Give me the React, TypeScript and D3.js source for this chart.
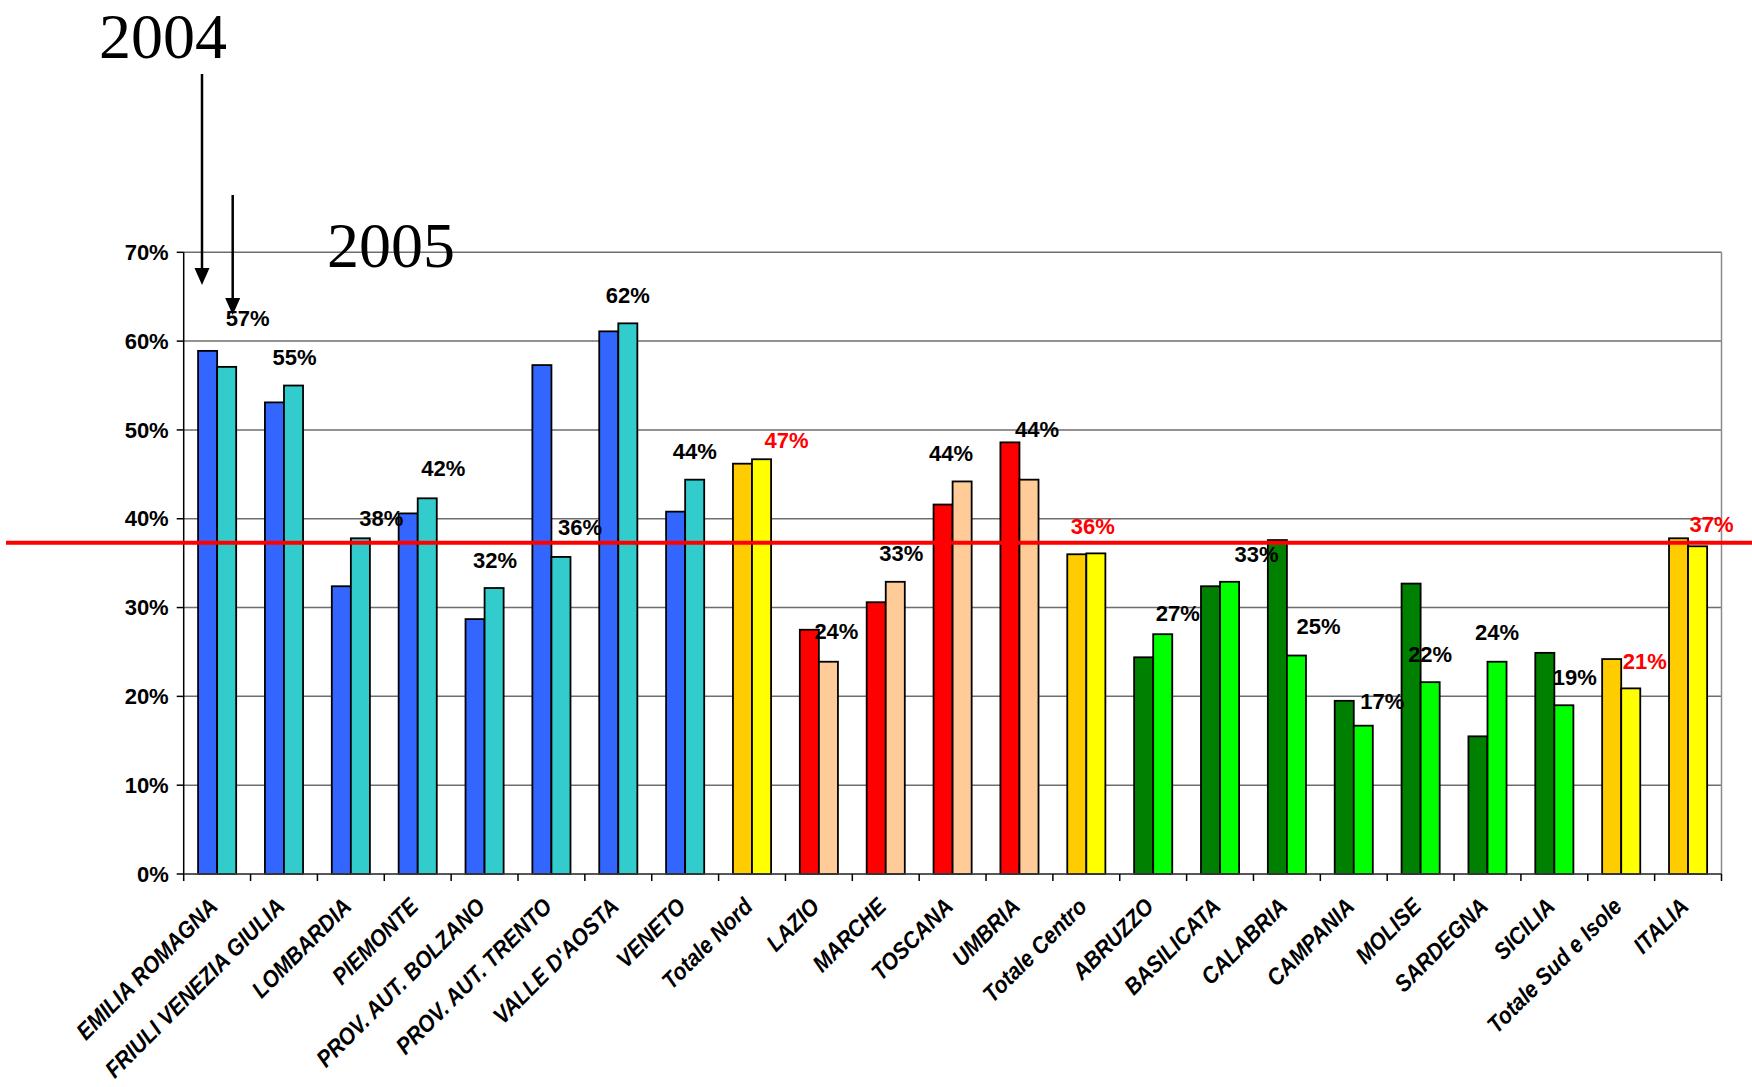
import React from "react";
import * as d3 from "d3";

const categories = [
  "EMILIA ROMAGNA", "FRIULI VENEZIA GIULIA", "LOMBARDIA", "PIEMONTE",
  "PROV. AUT. BOLZANO", "PROV. AUT. TRENTO", "VALLE D'AOSTA", "VENETO",
  "Totale Nord", "LAZIO", "MARCHE", "TOSCANA", "UMBRIA", "Totale Centro",
  "ABRUZZO", "BASILICATA", "CALABRIA", "CAMPANIA", "MOLISE", "SARDEGNA",
  "SICILIA", "Totale Sud e Isole", "ITALIA",
];
const groups = ["N","N","N","N","N","N","N","N","T","C","C","C","C","T","S","S","S","S","S","S","S","T","T"];
const values2004 = [58.9, 53.1, 32.4, 40.6, 28.7, 57.3, 61.1, 40.8, 46.2, 27.5, 30.6, 41.6, 48.6, 36.0, 24.4, 32.4, 37.6, 19.5, 32.7, 15.5, 24.9, 24.2, 37.8];
const values2005 = [57.1, 55.0, 37.8, 42.3, 32.2, 35.7, 62.0, 44.4, 46.7, 23.9, 32.9, 44.2, 44.4, 36.1, 27.0, 32.9, 24.6, 16.7, 21.6, 23.9, 19.0, 20.9, 36.9];
const redLabels = [false,false,false,false,false,false,false,false,true,false,false,false,false,true,false,false,false,false,false,false,false,true,true];
const referenceValue = 37.3;
const yTicks = [0, 10, 20, 30, 40, 50, 60, 70];
const years = ["2004", "2005"];

// label nudges (px) relative to the 2005 bar top
const labelDx = [21, 1, 21, 16, 1, 19, 0, 0, 25, 8, 6, -11, 8, -3, 15, 27, 22, 19, 0, 0, 11, 14, 14];
const labelDy = [-49, -28, -20, -30, -28, -30, -28, -28, -19, -30, -29, -28, -50, -27, -21, -28, -29, -24, -28, -29, -28, -27, -22];

const colors: Record<string, [string, string]> = {
  N: ["#3366FF", "#33CCCC"],
  T: ["#FFCC00", "#FFFF00"],
  C: ["#FF0000", "#FFCC99"],
  S: ["#008000", "#00FF00"],
};

const W = 1752, H = 1087;
const left = 183.7, right = 1721.5, top = 252.3, bottom = 874;
const font = "'Liberation Sans', Arial, sans-serif";

export default function App() {
  const x = d3.scaleBand<string>().domain(categories).range([left, right]).padding(0);
  const bw = x.bandwidth();
  const inner = d3.scaleBand<string>().domain(years).range([0, bw * 0.57]).padding(0);
  const y = d3.scaleLinear().domain([0, 70]).range([bottom, top]);
  const off = (bw - bw * 0.57) / 2;

  return (
    <svg width={W} height={H} style={{ position: "absolute", left: 0, top: 0, background: "#fff" }}>
      {/* gridlines */}
      {yTicks.map((t) => (
        <line key={"g" + t} x1={left} x2={right} y1={y(t)} y2={y(t)} stroke="#6e6e6e" strokeWidth={1.5} />
      ))}
      <line x1={right} x2={right} y1={top} y2={bottom} stroke="#8a8a8a" strokeWidth={1.5} />
      {/* bars */}
      {categories.map((c, i) => {
        const x0 = (x(c) as number) + off;
        const cols = colors[groups[i]];
        const vals = [values2004[i], values2005[i]];
        return (
          <g key={c}>
            {years.map((yr, j) => (
              <rect
                key={yr}
                x={x0 + (inner(yr) as number)}
                y={y(vals[j])}
                width={inner.bandwidth()}
                height={bottom - y(vals[j])}
                fill={cols[j]}
                stroke="#000"
                strokeWidth={1.8}
              />
            ))}
          </g>
        );
      })}
      {/* axes */}
      <line x1={left} x2={left} y1={top} y2={bottom} stroke="#000" strokeWidth={1.5} />
      <line x1={left} x2={right} y1={bottom} y2={bottom} stroke="#444" strokeWidth={1.5} />
      {yTicks.map((t) => (
        <g key={"yt" + t}>
          <line x1={left - 7} x2={left} y1={y(t)} y2={y(t)} stroke="#000" strokeWidth={1.5} />
          <text x={left - 15} y={y(t)} dy="0.35em" textAnchor="end" fontFamily={font} fontWeight="bold" fontSize={22}>
            {t + "%"}
          </text>
        </g>
      ))}
      {categories.map((c, i) => (
        <line key={"xt" + i} x1={x(c) as number} x2={x(c) as number} y1={bottom} y2={bottom + 7} stroke="#000" strokeWidth={1.5} />
      ))}
      <line x1={right} x2={right} y1={bottom} y2={bottom + 7} stroke="#000" strokeWidth={1.5} />
      {categories.map((c, i) => {
        const cx = (x(c) as number) + bw / 2 + 2;
        const cy = bottom + 34;
        return (
          <text
            key={"xl" + i}
            transform={`translate(${cx},${cy}) rotate(-45) scale(0.9,1)`}
            textAnchor="end"
            fontFamily={font}
            fontWeight="bold"
            fontStyle="italic"
            fontSize={23.5}
          >
            {c}
          </text>
        );
      })}
      {/* reference line */}
      <line x1={6} x2={W} y1={y(referenceValue)} y2={y(referenceValue)} stroke="#FF0000" strokeWidth={4} />
      {/* value labels */}
      {categories.map((c, i) => {
        const bx = (x(c) as number) + off + (inner("2005") as number) + inner.bandwidth() / 2;
        const by = y(values2005[i]);
        return (
          <text
            key={"vl" + i}
            x={bx + labelDx[i]}
            y={by + labelDy[i]}
            dy="0.35em"
            textAnchor="middle"
            fontFamily={font}
            fontWeight="bold"
            fontSize={22}
            fill={redLabels[i] ? "#FF0000" : "#000"}
          >
            {Math.round(values2005[i]) + "%"}
          </text>
        );
      })}
      {/* year annotations */}
      <text x={99} y={58} fontFamily="'Liberation Serif', 'Times New Roman', serif" fontSize={64}>2004</text>
      <text x={327} y={267} fontFamily="'Liberation Serif', 'Times New Roman', serif" fontSize={64}>2005</text>
      <line x1={202} x2={202} y1={74} y2={272} stroke="#000" strokeWidth={2.5} />
      <path d="M194.5,268 L209.5,268 L202,285 Z" fill="#000" />
      <line x1={232.7} x2={232.7} y1={195} y2={300} stroke="#000" strokeWidth={2.5} />
      <path d="M225.2,298 L240.2,298 L232.7,315 Z" fill="#000" />
    </svg>
  );
}
